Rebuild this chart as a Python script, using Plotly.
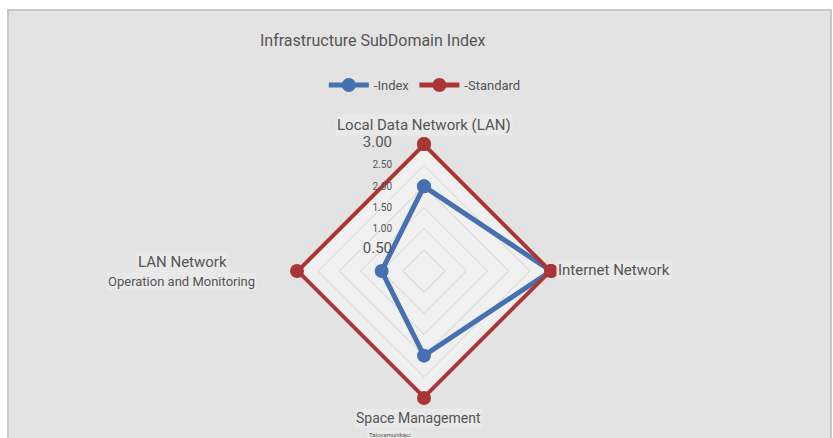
import plotly.graph_objects as go

categories = ["Local Data Network (LAN)", "Internet Network", "Space Management", "LAN Network Operation and Monitoring"]
index_values = [2.0, 3.0, 2.0, 1.0]
standard_values = [3.0, 3.0, 3.0, 3.0]
tick_vals = [0.5, 1.0, 1.5, 2.0, 2.5, 3.0]
tick_text = ["0.50", "1.00", "1.50", "2.00", "2.50", "3.00"]
big_ticks = {"0.50", "3.00"}
r_max = 3.05

FONT = "Roboto"
BLUE = "#4670b0"
RED = "#aa3535"

theta = categories + [categories[0]]

fig = go.Figure()
fig.add_trace(go.Scatterpolar(
    r=index_values + [index_values[0]], theta=theta, name="-Index",
    mode="lines+markers", line=dict(color=BLUE, width=5), cliponaxis=False,
    marker=dict(color=BLUE, size=14)))
fig.add_trace(go.Scatterpolar(
    r=standard_values + [standard_values[0]], theta=theta, name="-Standard",
    mode="lines+markers", line=dict(color=RED, width=5), cliponaxis=False,
    marker=dict(color=RED, size=14)))

ticktext_styled = [
    (f"<span style='font-size:15px'>{t}</span>" if t in big_ticks else f"<span style='font-size:10px'>{t}</span>")
    for t in tick_text
]

W, H = 833, 438
cx, cy = 424, 271
R = 127 * r_max / 3

fig.update_layout(
    width=W, height=H,
    margin=dict(l=0, r=0, t=0, b=0),
    paper_bgcolor="white",
    font=dict(family=FONT, color="#555555"),
    showlegend=True,
    legend=dict(orientation="h", x=0.51, xanchor="center", y=1 - 85 / H, yanchor="middle",
                font=dict(size=13, color="#555555"), bgcolor="rgba(0,0,0,0)",
                itemwidth=40, tracegroupgap=0),
    polar=dict(
        domain=dict(x=[(cx - R) / W, (cx + R) / W], y=[1 - (cy + R) / H, 1 - (cy - R) / H]),
        bgcolor="#f0f0f0",
        gridshape="linear",
        angularaxis=dict(rotation=90, direction="clockwise", showticklabels=False,
                         showgrid=False, showline=False, ticks=""),
        radialaxis=dict(range=[0, r_max], tickvals=tick_vals, ticktext=ticktext_styled,
                        angle=90, side="counterclockwise", showline=False,
                        ticks="outside", ticklen=28, tickcolor="rgba(0,0,0,0)",
                        gridcolor="#d2d2d2", gridwidth=1,
                        tickfont=dict(size=10, color="#555555"), tickangle=90),
    ),
    title=dict(text="Infrastructure SubDomain Index", x=260 / W, xanchor="left",
               y=1 - 40 / H, yanchor="middle", font=dict(size=16, color="#555555")),
)

fig.add_shape(type="rect", xref="paper", yref="paper", x0=8 / W, x1=831 / W, y0=-0.05, y1=1 - 10 / H,
              fillcolor="#e3e3e3", line=dict(color="#c8c8c8", width=2), layer="below")

ann = [
    dict(text=categories[0], x=cx / W, y=1 - 125 / H, xanchor="center", size=15),
    dict(text=categories[1], x=556 / W, y=1 - 270 / H, xanchor="left", size=15),
    dict(text="Space Management", x=354 / W, y=1 - 418 / H, xanchor="left", size=14),
    dict(text="Talovamunikaci", x=367 / W, y=1 - 434 / H, xanchor="left", size=6),
    dict(text="LAN Network", x=182 / W, y=1 - 262 / H, xanchor="center", size=15),
    dict(text="Operation and Monitoring", x=181 / W, y=1 - 281 / H, xanchor="center", size=13),
]
for a in ann:
    fig.add_annotation(text=a["text"], x=a["x"], y=a["y"], xref="paper", yref="paper",
                       xanchor=a["xanchor"], yanchor="middle", showarrow=False,
                       bgcolor="#e9e9e9", font=dict(size=a["size"], color="#555555", family=FONT))

fig.write_html("out.html")
